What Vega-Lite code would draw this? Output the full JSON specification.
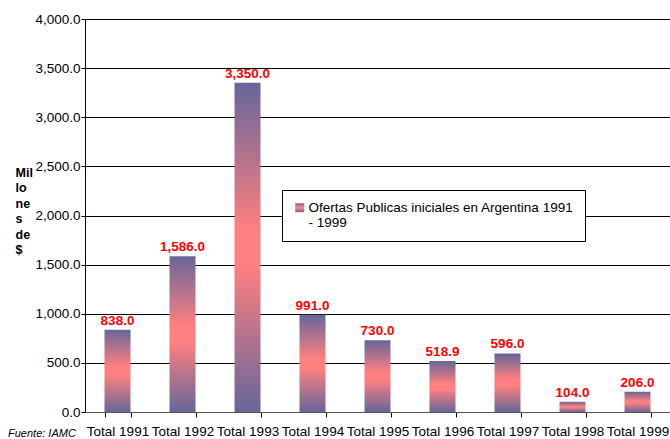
{
  "$schema": "https://vega.github.io/schema/vega-lite/v6.json",
  "width": 585,
  "height": 393,
  "autosize": {"type": "none"},
  "padding": {"left": 85, "top": 19, "right": 0, "bottom": 27},
  "background": "white",
  "config": {
    "font": "Liberation Sans",
    "view": {"stroke": null},
    "axis": {"labelFont": "Liberation Sans", "titleFont": "Liberation Sans"},
    "legend": {"labelFont": "Liberation Sans"}
  },
  "title": {
    "text": "Fuente: IAMC",
    "orient": "bottom",
    "anchor": "start",
    "frame": "group",
    "dx": -77,
    "offset": -10,
    "fontSize": 11,
    "fontStyle": "italic",
    "fontWeight": "normal",
    "color": "#000000"
  },
  "data": {
    "values": [
      {"periodo": "Total 1991", "valor": 838.0, "serie": "Ofertas Publicas iniciales en Argentina 1991| - 1999"},
      {"periodo": "Total 1992", "valor": 1586.0, "serie": "Ofertas Publicas iniciales en Argentina 1991| - 1999"},
      {"periodo": "Total 1993", "valor": 3350.0, "serie": "Ofertas Publicas iniciales en Argentina 1991| - 1999"},
      {"periodo": "Total 1994", "valor": 991.0, "serie": "Ofertas Publicas iniciales en Argentina 1991| - 1999"},
      {"periodo": "Total 1995", "valor": 730.0, "serie": "Ofertas Publicas iniciales en Argentina 1991| - 1999"},
      {"periodo": "Total 1996", "valor": 518.9, "serie": "Ofertas Publicas iniciales en Argentina 1991| - 1999"},
      {"periodo": "Total 1997", "valor": 596.0, "serie": "Ofertas Publicas iniciales en Argentina 1991| - 1999"},
      {"periodo": "Total 1998", "valor": 104.0, "serie": "Ofertas Publicas iniciales en Argentina 1991| - 1999"},
      {"periodo": "Total 1999", "valor": 206.0, "serie": "Ofertas Publicas iniciales en Argentina 1991| - 1999"}
    ]
  },
  "encoding": {
    "x": {
      "field": "periodo",
      "type": "nominal",
      "sort": null,
      "scale": {"paddingInner": 0.6, "paddingOuter": 0.3},
      "axis": {
        "title": null,
        "labelAngle": 0,
        "labelFontSize": 13.5,
        "labelColor": "#000000",
        "labelPadding": 7,
        "tickBand": "extent",
        "tickSize": 5,
        "tickColor": "#000000",
        "domainColor": "#555555",
        "labelOverlap": false,
        "labelLimit": 0
      }
    },
    "y": {
      "field": "valor",
      "type": "quantitative",
      "scale": {"domain": [0, 4000]},
      "axis": {
        "values": [0, 500, 1000, 1500, 2000, 2500, 3000, 3500, 4000],
        "format": ",.1f",
        "labelFontSize": 13.5,
        "labelColor": "#000000",
        "labelPadding": 1,
        "tickSize": 4,
        "tickColor": "#000000",
        "domainColor": "#000000",
        "grid": true,
        "gridColor": "#000000",
        "gridWidth": 1,
        "title": ["Mil", "lo", "ne", "s", "de", "$"],
        "titleAngle": 0,
        "titleAlign": "left",
        "titleBaseline": "top",
        "titleX": -70,
        "titleY": 147,
        "titleFontSize": 12.5,
        "titleFontWeight": "bold",
        "titleLineHeight": 15.5,
        "titleColor": "#000000"
      }
    }
  },
  "layer": [
    {
      "mark": {
        "type": "bar",
        "strokeWidth": 0,
        "fill": {
          "gradient": "linear",
          "x1": 0, "y1": 0, "x2": 0, "y2": 1,
          "stops": [
            {"offset": 0, "color": "#666699"},
            {"offset": 0.45, "color": "#FF8080"},
            {"offset": 0.55, "color": "#FF8080"},
            {"offset": 1, "color": "#666699"}
          ]
        }
      },
      "encoding": {
        "stroke": {
          "field": "serie",
          "type": "nominal",
          "scale": {"range": ["#FF8080"]},
          "legend": {
            "title": null,
            "orient": "none",
            "legendX": 197,
            "legendY": 171,
            "fillColor": "#FFFFFF",
            "strokeColor": "#000000",
            "padding": 11,
            "symbolType": "square",
            "symbolSize": 80,
            "symbolStrokeWidth": 0,
            "labelFontSize": 13.5,
            "labelColor": "#000000",
            "labelLimit": 0,
            "labelExpr": "split(datum.label, '|')",
            "labelBaseline": "middle",
            "labelOffset": 2
          }
        }
      }
    },
    {
      "mark": {"type": "text", "dy": -9, "fontSize": 13.5, "fontWeight": "bold", "color": "#FF0000", "baseline": "middle"},
      "encoding": {
        "text": {"field": "valor", "type": "quantitative", "format": ",.1f"}
      }
    }
  ]
}
